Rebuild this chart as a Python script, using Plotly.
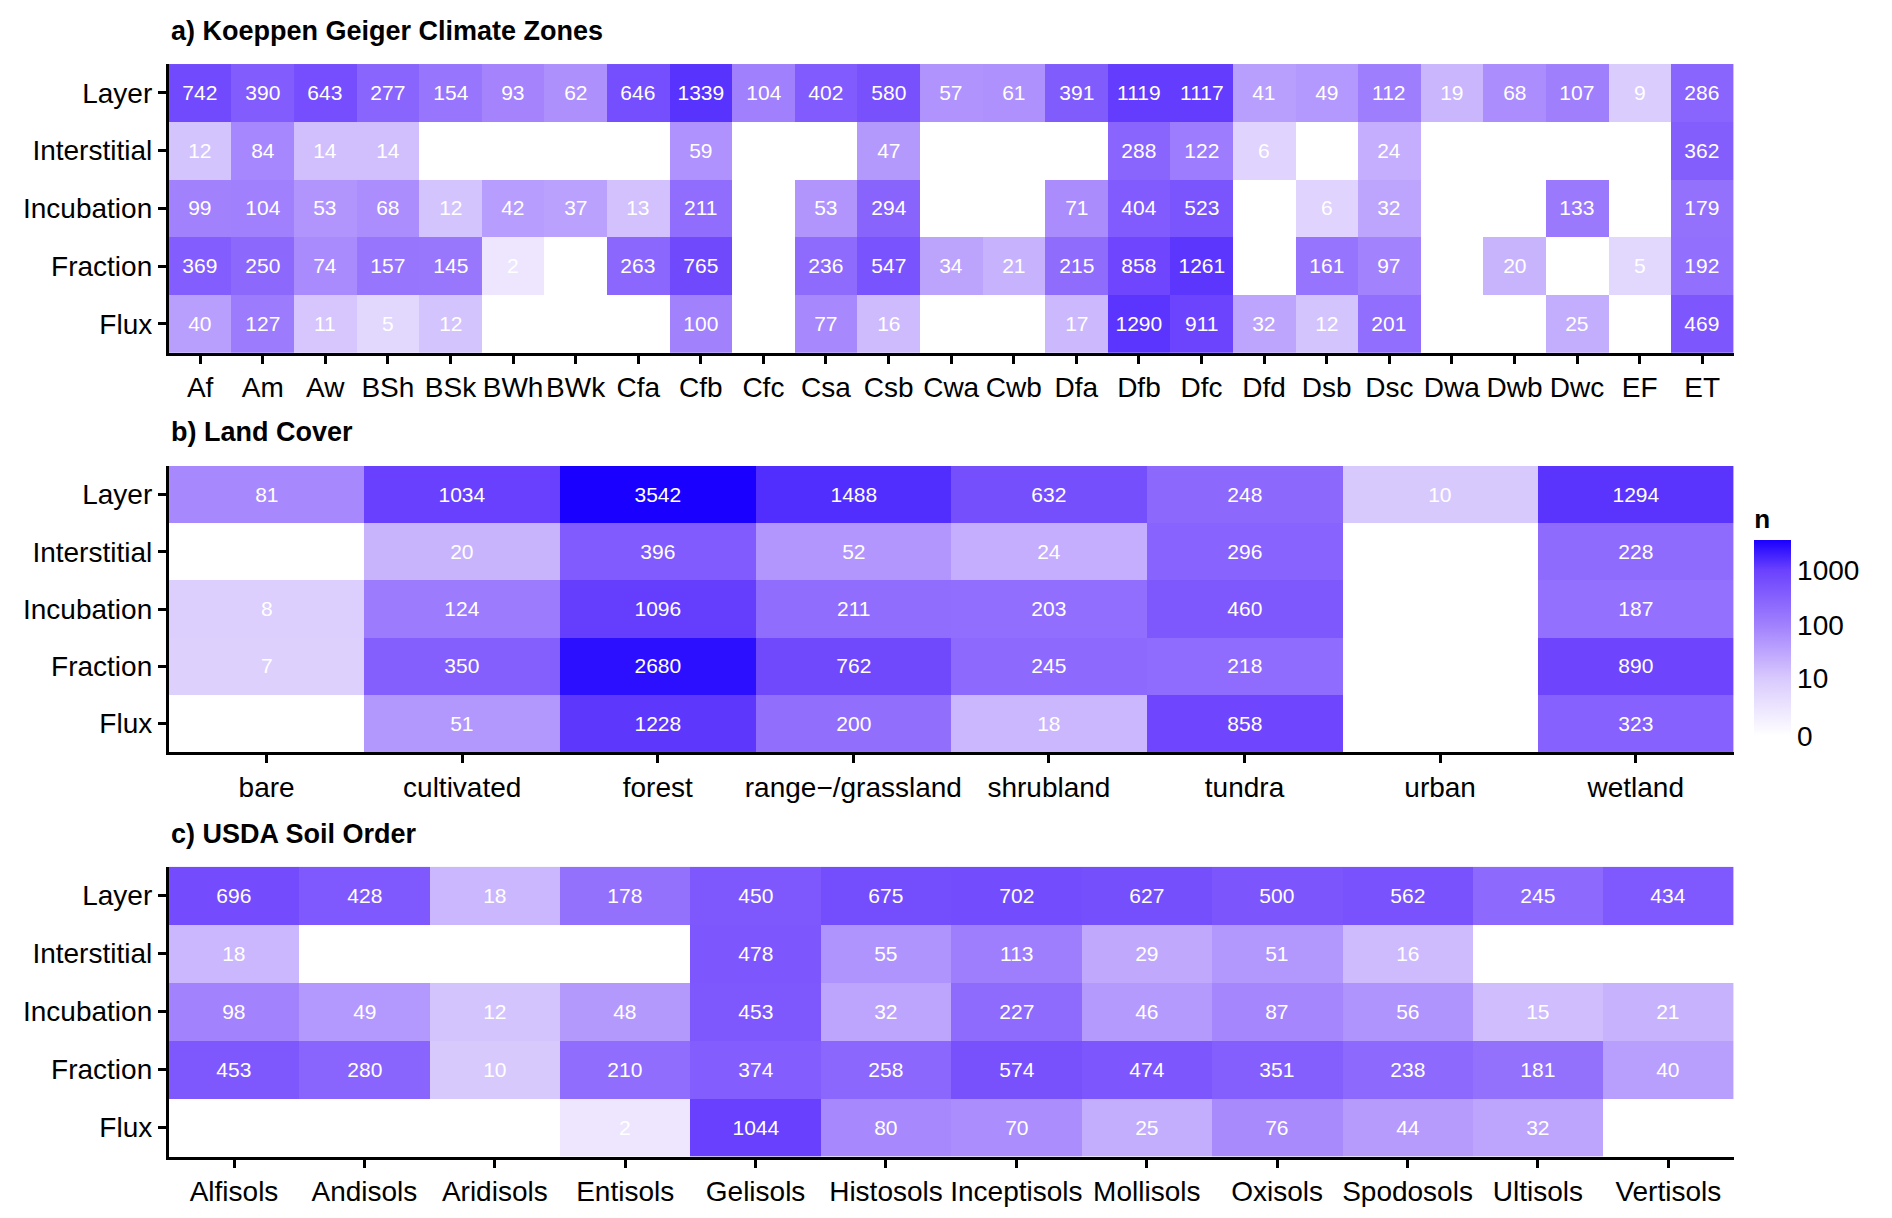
import numpy as np
import plotly.graph_objects as go

N = None
rows = ["Layer", "Interstitial", "Incubation", "Fraction", "Flux"]

kg_cols = ["Af","Am","Aw","BSh","BSk","BWh","BWk","Cfa","Cfb","Cfc","Csa","Csb","Cwa","Cwb","Dfa","Dfb","Dfc","Dfd","Dsb","Dsc","Dwa","Dwb","Dwc","EF","ET"]
kg_layer = [742,390,643,277,154,93,62,646,1339,104,402,580,57,61,391,1119,1117,41,49,112,19,68,107,9,286]
kg_inter = [12,84,14,14,N,N,N,N,59,N,N,47,N,N,N,288,122,6,N,24,N,N,N,N,362]
kg_incub = [99,104,53,68,12,42,37,13,211,N,53,294,N,N,71,404,523,N,6,32,N,N,133,N,179]
kg_frac = [369,250,74,157,145,2,N,263,765,N,236,547,34,21,215,858,1261,N,161,97,N,20,N,5,192]
kg_flux = [40,127,11,5,12,N,N,N,100,N,77,16,N,N,17,1290,911,32,12,201,N,N,25,N,469]

lc_cols = ["bare","cultivated","forest","range\u2212/grassland","shrubland","tundra","urban","wetland"]
lc_layer = [81,1034,3542,1488,632,248,10,1294]
lc_inter = [N,20,396,52,24,296,N,228]
lc_incub = [8,124,1096,211,203,460,N,187]
lc_frac = [7,350,2680,762,245,218,N,890]
lc_flux = [N,51,1228,200,18,858,N,323]

so_cols = ["Alfisols","Andisols","Aridisols","Entisols","Gelisols","Histosols","Inceptisols","Mollisols","Oxisols","Spodosols","Ultisols","Vertisols"]
so_layer = [696,428,18,178,450,675,702,627,500,562,245,434]
so_inter = [18,N,N,N,478,55,113,29,51,16,N,N]
so_incub = [98,49,12,48,453,32,227,46,87,56,15,21]
so_frac = [453,280,10,210,374,258,574,474,351,238,181,40]
so_flux = [N,N,N,2,1044,80,70,25,76,44,32,N]

cbar_ticks = [0, 10, 100, 1000]
titles = ["<b>a) Koeppen Geiger Climate Zones</b>", "<b>b) Land Cover</b>", "<b>c) USDA Soil Order</b>"]

panels = [
    (kg_cols, [kg_layer, kg_inter, kg_incub, kg_frac, kg_flux]),
    (lc_cols, [lc_layer, lc_inter, lc_incub, lc_frac, lc_flux]),
    (so_cols, [so_layer, so_inter, so_incub, so_frac, so_flux]),
]
domains = [(0.717, 0.954), (0.389, 0.624), (0.057, 0.295)]
title_y = [0.981, 0.652, 0.322]

FONT = "Liberation Sans, Arial, sans-serif"
fig = go.Figure()
for i, ((cols, data), dom) in enumerate(zip(panels, domains)):
    n = np.array([[np.nan if v is None else v for v in r] for r in data], dtype=float)
    z = np.log10(n + 1)
    txt = [["" if v is None else str(v) for v in r] for r in data]
    xa = "x" if i == 0 else f"x{i+1}"
    ya = "y" if i == 0 else f"y{i+1}"
    fig.add_trace(go.Heatmap(
        z=z, x=cols, y=rows, text=txt, texttemplate="%{text}",
        textfont=dict(color="white", size=21, family=FONT),
        coloraxis="coloraxis", xaxis=xa, yaxis=ya, xgap=0, ygap=0,
        hoverinfo="skip"))
    sfx = "" if i == 0 else str(i + 1)
    fig.layout["xaxis" + sfx] = dict(domain=[0.085, 0.912], anchor=ya, showline=True,
        linecolor="black", linewidth=3, ticks="outside", ticklen=8, tickwidth=2.5,
        tickcolor="black", tickfont=dict(size=28, color="black", family=FONT),
        showgrid=False, zeroline=False, mirror=False)
    fig.layout["yaxis" + sfx] = dict(domain=list(dom), anchor=xa, showline=True,
        linecolor="black", linewidth=3, ticks="outside", ticklen=8, tickwidth=2.5,
        tickcolor="black", tickfont=dict(size=28, color="black", family=FONT),
        autorange="reversed", showgrid=False, zeroline=False)
    fig.add_annotation(text=titles[i], x=0.085, y=title_y[i], xref="paper", yref="paper",
        xanchor="left", yanchor="middle", showarrow=False,
        font=dict(size=27, color="black", family=FONT))

zmax = np.log10(3543)
fig.update_layout(
    width=1892, height=1218, margin=dict(l=0, r=0, t=0, b=0),
    plot_bgcolor="white", paper_bgcolor="white",
    coloraxis=dict(cmin=0, cmax=zmax,
        colorscale=[[0, "#ffffff"], [0.29, "#d9cafd"], [0.565, "#a281fd"],
                    [0.845, "#6b42fd"], [1, "#1a00ff"]],
        colorbar=dict(x=0.923, xanchor="left", y=0.497, yanchor="middle",
            len=0.19, lenmode="fraction", thickness=37, outlinewidth=0, ypad=0, xpad=0,
            tickvals=[np.log10(v + 1) for v in cbar_ticks], ticktext=[str(v) for v in cbar_ticks],
            ticks="", tickfont=dict(size=28, color="black", family=FONT),
            title=dict(text="<b>n</b>", font=dict(size=26, color="black", family=FONT), side="top"))),
)
fig.write_html("out.html")
